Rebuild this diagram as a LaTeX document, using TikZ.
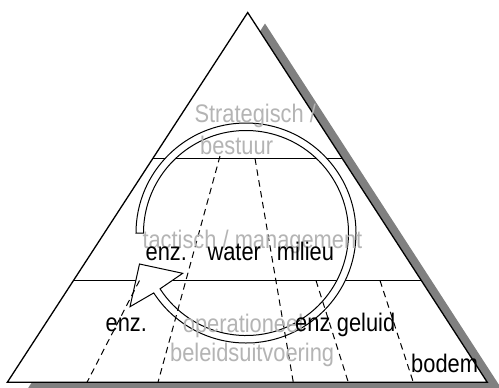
\documentclass[tikz,border=0pt]{standalone}
\usepackage{fontspec}
\usetikzlibrary{calc}
\setmainfont{Liberation Sans}[FakeStretch=0.86]
\definecolor{shadowgray}{RGB}{128,128,128}
\definecolor{labelgray}{RGB}{180,180,180}
\begin{document}
\begin{tikzpicture}[x=1bp,y=-1bp,
  tri/.style={draw=black,line width=1.3bp,fill=white,line join=miter},
  shadowtri/.style={fill=shadowgray,draw=none},
  layerline/.style={draw=black,line width=1.1bp},
  sepline/.style={draw=black,line width=1bp,dash pattern=on 6.5bp off 4.5bp},
  cyclearrow/.style={draw=black,line width=1bp,fill=white,line join=miter},
  lbl/.style={inner sep=0pt,anchor=base west,font=\fontsize{25.5}{27}\selectfont,text=black},
  glbl/.style={lbl,text=labelgray}]
\useasboundingbox (0,0) rectangle (499,387);
\clip (0,0) rectangle (499,387);
% shadow
\coordinate (SA) at (265,23.5);
\coordinate (SL) at (24.6,393.5);
\coordinate (SR) at (504.6,393.5);
\fill[shadowtri] (SA) -- (SL) -- (SR) -- cycle;
% main triangle
\coordinate (A) at (247.7,12.5);
\coordinate (L) at (7.3,382.3);
\coordinate (R) at (487.3,382.3);
\draw[tri] (A) -- (L) -- (R) -- cycle;
% layer lines
\coordinate (l1a) at ($(A)!0.3948!(L)$);
\coordinate (l1b) at ($(A)!0.3948!(R)$);
\coordinate (l2a) at ($(A)!0.7247!(L)$);
\coordinate (l2b) at ($(A)!0.7247!(R)$);
\draw[layerline] (l1a) -- (l1b);
\draw[layerline] (l2a) -- (l2b);
% cycle arrow
\draw[cyclearrow] (136,233) arc[start angle=180,end angle=507,radius=110]
  coordinate (aout)
  -- (130,306.7) coordinate (hb1)
  -- (139.5,264) coordinate (htip)
  -- (182.7,273.3) coordinate (hb2)
  -- ({246+102.5*cos(507)},{233+102.5*sin(507)}) coordinate (ain)
  arc[start angle=507,end angle=180,radius=102.5] -- cycle;
% dashed separators
\coordinate (d1t) at (220,156);   \coordinate (d1b) at (158,382.3);
\coordinate (d2t) at (255,158.5); \coordinate (d2b) at (293.3,382.3);
\coordinate (d3t) at (139.5,280.5); \coordinate (d3b) at (87,382.3);
\coordinate (d4t) at (316,280.5); \coordinate (d4b) at (348.3,382.3);
\coordinate (d5t) at (380,280.5); \coordinate (d5b) at (413.3,382.3);
\draw[sepline] (d1t) -- (d1b);
\draw[sepline] (d2t) -- (d2b);
\draw[sepline] (d3t) -- (d3b);
\draw[sepline] (d4t) -- (d4b);
\draw[sepline] (d5t) -- (d5b);
% labels
\node[glbl] (strat) at (194.3,122.7) {Strategisch /};
\node[glbl] (best) at (200,154) {bestuur};
\node[glbl] (tact) at (142.3,248.3) {tactisch / management};
\node[lbl] (enza) at (145.5,260.7) {enz.};
\node[lbl] (water) at (207.3,260.7) {water};
\node[lbl] (milieu) at (276.7,260.7) {milieu};
\node[lbl] (enzb) at (105.5,331.7) {enz.};
\node[glbl] (oper) at (182.7,332) {operationeel};
\node[lbl] (enzc) at (295,331.7) {enz};
\node[lbl] (geluid) at (336.7,331.7) {geluid};
\node[glbl] (beleid) at (170,361.7) {beleidsuitvoering};
\node[lbl] (bodem) at (411,372) {bodem};
\end{tikzpicture}
\end{document}
